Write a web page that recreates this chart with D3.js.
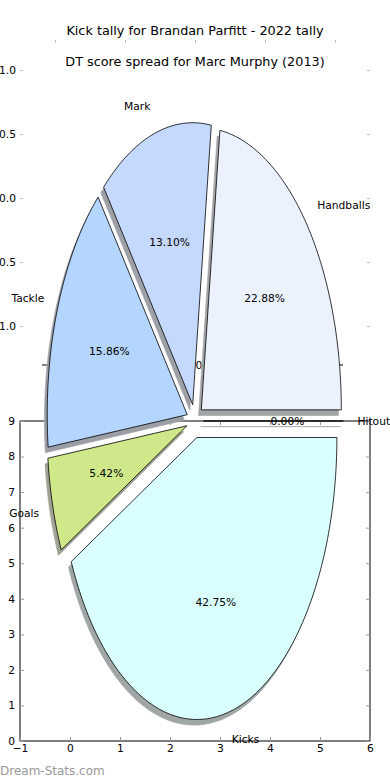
<!DOCTYPE html>
<html><head><meta charset="utf-8">
<script src="https://cdn.jsdelivr.net/npm/d3@7"></script>
<style>
html,body{margin:0;padding:0;background:#fff;}
svg{display:block;font-family:"DejaVu Sans",sans-serif;}
</style></head>
<body><svg id="c" width="390" height="780"></svg>
<script>
// ---- data ----
const titles = ["Kick tally for Brandan Parfitt - 2022 tally", "DT score spread for Marc Murphy (2013)"];
const categories = ["Handballs", "Mark", "Tackle", "Goals", "Kicks", "Hitout"];
const percents = [22.88, 13.10, 15.86, 5.42, 42.75, 0.00];
const colors = ["#ebf2fe", "#c5d9fe", "#b4d5fd", "#cfe98a", "#d9ffff", "#e0e0e0"];
const explode = [0.06, 0.06, 0.06, 0.06, 0.06, 0.06];
const ticksA = [-1, -0.5, 0, 0.5, 1];
const ticksB = [1, 0.5, 0, -0.5, -1];
const ticksCx = [-1, 0, 1, 2, 3, 4, 5, 6];
const ticksCy = [0, 1, 2, 3, 4, 5, 6, 7, 8, 9];
const watermark = "Dream-Stats.com";

const svg = d3.select("#c");
const FS = 10.7;

// scales
const xP = d3.scaleLinear().domain([-1.25, 1.25]).range([20, 370]);
const yP = d3.scaleLinear().domain([-1.25, 1.25]).range([773.5, 68.5]);
const yB = d3.scaleLinear().domain([-1, 1]).range([326, 70]);
const xC = d3.scaleLinear().domain([-1, 6]).range([20, 370]);
const yC = d3.scaleLinear().domain([0, 9]).range([741, 421]);
const xE = d3.scaleLinear().domain([-1, 1]).range([45, 353]);

// titles
svg.append("text").attr("x", 195).attr("y", 30).attr("text-anchor", "middle")
  .attr("dominant-baseline", "central").attr("font-size", 12.8).text(titles[0]);
svg.append("text").attr("x", 195).attr("y", 61).attr("text-anchor", "middle")
  .attr("dominant-baseline", "central").attr("font-size", 12.8).text(titles[1]);

// axis A (top ticks only)
const gA = svg.append("g").attr("transform", "translate(0,40)")
  .call(d3.axisTop(xP).tickValues(ticksA).tickSize(-3).tickFormat(""));
gA.select(".domain").remove();
gA.selectAll("line").attr("stroke", "#bbb");

// axis B (left/right ticks)
const fmtB = d3.format(".1f");
const gB = svg.append("g").attr("transform", "translate(20,0)")
  .call(d3.axisLeft(yB).tickValues(ticksB).tickSize(-3).tickPadding(4).tickFormat(fmtB));
gB.select(".domain").remove();
gB.selectAll("line").attr("stroke", "#bbb");
gB.selectAll("text").attr("font-size", FS).attr("font-family", "DejaVu Sans").attr("fill", "#000");
const gB2 = svg.append("g").attr("transform", "translate(370,0)")
  .call(d3.axisRight(yB).tickValues(ticksB).tickSize(-3).tickFormat(""));
gB2.select(".domain").remove();
gB2.selectAll("line").attr("stroke", "#bbb");

// axis C (full frame)
const gC = svg.append("g");
gC.append("rect").attr("x", xC(-1)).attr("y", yC(9)).attr("width", xC(6) - xC(-1))
  .attr("height", yC(0) - yC(9)).attr("fill", "none").attr("stroke", "#000").attr("stroke-width", 1);
const cb = gC.append("g").attr("transform", `translate(0,${yC(0)})`)
  .call(d3.axisBottom(xC).tickValues(ticksCx).tickSize(-4).tickPadding(5).tickFormat(d3.format("d")));
const cl = gC.append("g").attr("transform", `translate(${xC(-1)},0)`)
  .call(d3.axisLeft(yC).tickValues(ticksCy).tickSize(-4).tickPadding(5).tickFormat(d3.format("d")));
const ct = gC.append("g").attr("transform", `translate(0,${yC(9)})`)
  .call(d3.axisTop(xC).tickValues(ticksCx).tickSize(-4).tickFormat(""));
const cr = gC.append("g").attr("transform", `translate(${xC(6)},0)`)
  .call(d3.axisRight(yC).tickValues(ticksCy).tickSize(-4).tickFormat(""));
[cb, cl, ct, cr].forEach(g => { g.select(".domain").remove(); g.selectAll("line").attr("stroke", "#999"); });
[cb, cl].forEach(g => g.selectAll("text").attr("font-size", FS).attr("font-family", "DejaVu Sans").attr("fill", "#000"));
cb.selectAll("text").attr("dy", "0.6em");

// axis E (stray tick at y = 365)
const gE = svg.append("g").attr("transform", "translate(0,365)");
gE.append("line").attr("x1", xE(-1) - 3).attr("x2", xE(-1) + 3).attr("stroke", "#000");
gE.append("text").attr("x", xE(0)).attr("text-anchor", "middle").attr("dominant-baseline", "central")
  .attr("font-size", FS).text("0");
gE.append("line").attr("x1", 339).attr("x2", 343).attr("stroke", "#000");

// ---- pie ----
const total = d3.sum(percents);
let acc = 0;
const wedges = percents.map((p, i) => {
  const a0 = acc / total * 360; acc += p; const a1 = acc / total * 360;
  const mid = (a0 + a1) / 2 * Math.PI / 180;
  return { i, p, a0, a1, mid, ox: explode[i] * Math.cos(mid), oy: explode[i] * Math.sin(mid) };
});
function wedgePts(w, dx, dy) {
  const pts = [[w.ox + dx, w.oy + dy]];
  const n = Math.max(1, Math.ceil(w.a1 - w.a0));
  for (let k = 0; k <= n; k++) {
    const a = (w.a0 + (w.a1 - w.a0) * k / n) * Math.PI / 180;
    pts.push([w.ox + dx + Math.cos(a), w.oy + dy + Math.sin(a)]);
  }
  return pts;
}
const line = d3.line().x(d => xP(d[0])).y(d => yP(d[1]));
function shadowColor(c) {
  const r = d3.rgb(c);
  const f = v => Math.round(255 * (0.5 + 0.5 * 0.3 * v / 255));
  return d3.rgb(f(r.r), f(r.g), f(r.b)).toString();
}
const gS = svg.append("g");
gS.selectAll("path").data(wedges).join("path")
  .attr("d", w => line(wedgePts(w, -0.02, -0.02)) + "Z")
  .attr("fill", w => shadowColor(colors[w.i]))
  .attr("stroke", w => shadowColor(colors[w.i])).attr("stroke-width", 0.6);
const gW = svg.append("g");
gW.selectAll("path").data(wedges).join("path")
  .attr("d", w => line(wedgePts(w, 0, 0)) + "Z")
  .attr("fill", w => colors[w.i]).attr("stroke", "#000").attr("stroke-width", 0.8)
  .attr("stroke-linejoin", "round");

// labels
const gL = svg.append("g").attr("font-size", FS);
wedges.forEach(w => {
  const e = explode[w.i];
  const lx = (1.1 + e) * Math.cos(w.mid), ly = (1.1 + e) * Math.sin(w.mid);
  gL.append("text").attr("x", xP(lx)).attr("y", yP(ly))
    .attr("text-anchor", lx > 0 ? "start" : "end").attr("dominant-baseline", "central")
    .text(categories[w.i]);
  const px = (0.6 + e) * Math.cos(w.mid), py = (0.6 + e) * Math.sin(w.mid);
  gL.append("text").attr("x", xP(px)).attr("y", yP(py))
    .attr("text-anchor", "middle").attr("dominant-baseline", "central")
    .text(w.p.toFixed(2) + "%");
});

// watermark
svg.append("text").attr("x", 0).attr("y", 771).attr("dominant-baseline", "central")
  .attr("font-size", 12).attr("fill", "#999").text(watermark);
</script></body></html>
